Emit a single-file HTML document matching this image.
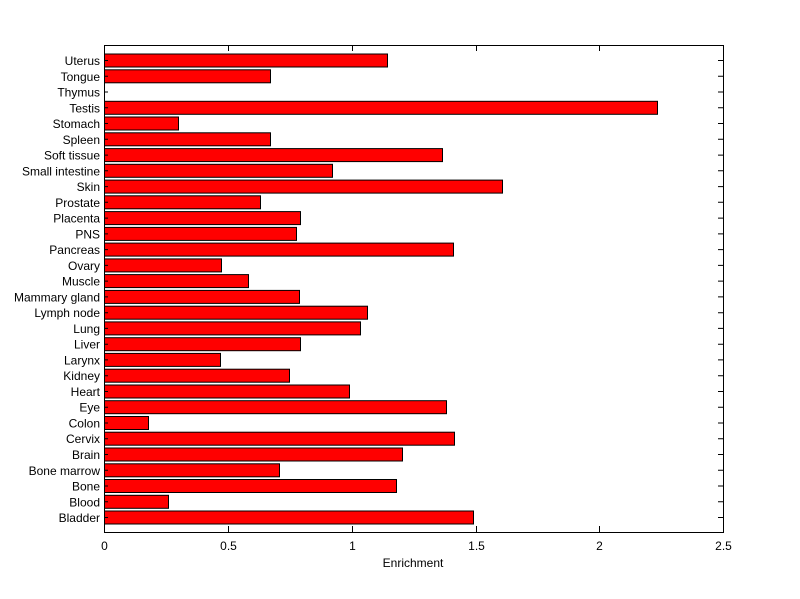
<!DOCTYPE html>
<html><head><meta charset="utf-8"><style>body{margin:0;background:#fff}svg{display:block}text{font-family:"Liberation Sans",sans-serif;font-size:12px;fill:#000}</style></head><body>
<svg width="800" height="599" xmlns="http://www.w3.org/2000/svg">
<rect width="800" height="599" fill="#fff"/>
<g fill="#f00" stroke="#000" stroke-width="1">
<rect x="104.5" y="54" width="283" height="13"/>
<rect x="104.5" y="69.8" width="166" height="13"/>
<rect x="104.5" y="101.3" width="553" height="13"/>
<rect x="104.5" y="117" width="74" height="13"/>
<rect x="104.5" y="132.8" width="166" height="13"/>
<rect x="104.5" y="148.6" width="338" height="13"/>
<rect x="104.5" y="164.3" width="228" height="13"/>
<rect x="104.5" y="180.1" width="398" height="13"/>
<rect x="104.5" y="195.8" width="156" height="13"/>
<rect x="104.5" y="211.6" width="196" height="13"/>
<rect x="104.5" y="227.4" width="192" height="13"/>
<rect x="104.5" y="243.1" width="349" height="13"/>
<rect x="104.5" y="258.9" width="117" height="13"/>
<rect x="104.5" y="274.6" width="144" height="13"/>
<rect x="104.5" y="290.4" width="195" height="13"/>
<rect x="104.5" y="306.2" width="263" height="13"/>
<rect x="104.5" y="321.9" width="256" height="13"/>
<rect x="104.5" y="337.7" width="196" height="13"/>
<rect x="104.5" y="353.4" width="116" height="13"/>
<rect x="104.5" y="369.2" width="185" height="13"/>
<rect x="104.5" y="385" width="245" height="13"/>
<rect x="104.5" y="400.7" width="342" height="13"/>
<rect x="104.5" y="416.5" width="44" height="13"/>
<rect x="104.5" y="432.2" width="350" height="13"/>
<rect x="104.5" y="448" width="298" height="13"/>
<rect x="104.5" y="463.8" width="175" height="13"/>
<rect x="104.5" y="479.5" width="292" height="13"/>
<rect x="104.5" y="495.3" width="64" height="13"/>
<rect x="104.5" y="511" width="369" height="13"/>
</g>
<rect x="104.5" y="45.5" width="619" height="487" fill="none" stroke="#000"/>
<g stroke="#000">
<path d="M104 60.5h4M104 76.3h4M104 92h4M104 107.8h4M104 123.5h4M104 139.3h4M104 155.1h4M104 170.8h4M104 186.6h4M104 202.3h4M104 218.1h4M104 233.9h4M104 249.6h4M104 265.4h4M104 281.1h4M104 296.9h4M104 312.7h4M104 328.4h4M104 344.2h4M104 359.9h4M104 375.7h4M104 391.5h4M104 407.2h4M104 423h4M104 438.7h4M104 454.5h4M104 470.3h4M104 486h4M104 501.8h4M104 517.5h4"/>
<path d="M723 60.5h-5M723 76.3h-5M723 92h-5M723 107.8h-5M723 123.5h-5M723 139.3h-5M723 155.1h-5M723 170.8h-5M723 186.6h-5M723 202.3h-5M723 218.1h-5M723 233.9h-5M723 249.6h-5M723 265.4h-5M723 281.1h-5M723 296.9h-5M723 312.7h-5M723 328.4h-5M723 344.2h-5M723 359.9h-5M723 375.7h-5M723 391.5h-5M723 407.2h-5M723 423h-5M723 438.7h-5M723 454.5h-5M723 470.3h-5M723 486h-5M723 501.8h-5M723 517.5h-5"/>
<path d="M228.5 532v-6M352.5 532v-6M476.5 532v-6M599.5 532v-6M228.5 45v6M352.5 45v6M476.5 45v6M599.5 45v6"/>
</g>
<g text-anchor="end">
<text x="100" y="65">Uterus</text><text x="100" y="80.8">Tongue</text><text x="100" y="96.5">Thymus</text><text x="100" y="112.3">Testis</text><text x="100" y="128">Stomach</text><text x="100" y="143.8">Spleen</text><text x="100" y="159.6">Soft tissue</text><text x="100" y="175.3">Small intestine</text><text x="100" y="191.1">Skin</text><text x="100" y="206.8">Prostate</text><text x="100" y="222.6">Placenta</text><text x="100" y="238.4">PNS</text><text x="100" y="254.1">Pancreas</text><text x="100" y="269.9">Ovary</text><text x="100" y="285.6">Muscle</text><text x="100" y="301.4">Mammary gland</text><text x="100" y="317.2">Lymph node</text><text x="100" y="332.9">Lung</text><text x="100" y="348.7">Liver</text><text x="100" y="364.4">Larynx</text><text x="100" y="380.2">Kidney</text><text x="100" y="396">Heart</text><text x="100" y="411.7">Eye</text><text x="100" y="427.5">Colon</text><text x="100" y="443.2">Cervix</text><text x="100" y="459">Brain</text><text x="100" y="474.8">Bone marrow</text><text x="100" y="490.5">Bone</text><text x="100" y="506.3">Blood</text><text x="100" y="522">Bladder</text>
</g>
<g text-anchor="middle">
<text x="104.5" y="550">0</text><text x="228.5" y="550">0.5</text><text x="352.5" y="550">1</text><text x="476.5" y="550">1.5</text><text x="599.5" y="550">2</text><text x="723.5" y="550">2.5</text>
<text x="413" y="567">Enrichment</text>
</g>
</svg>
</body></html>
